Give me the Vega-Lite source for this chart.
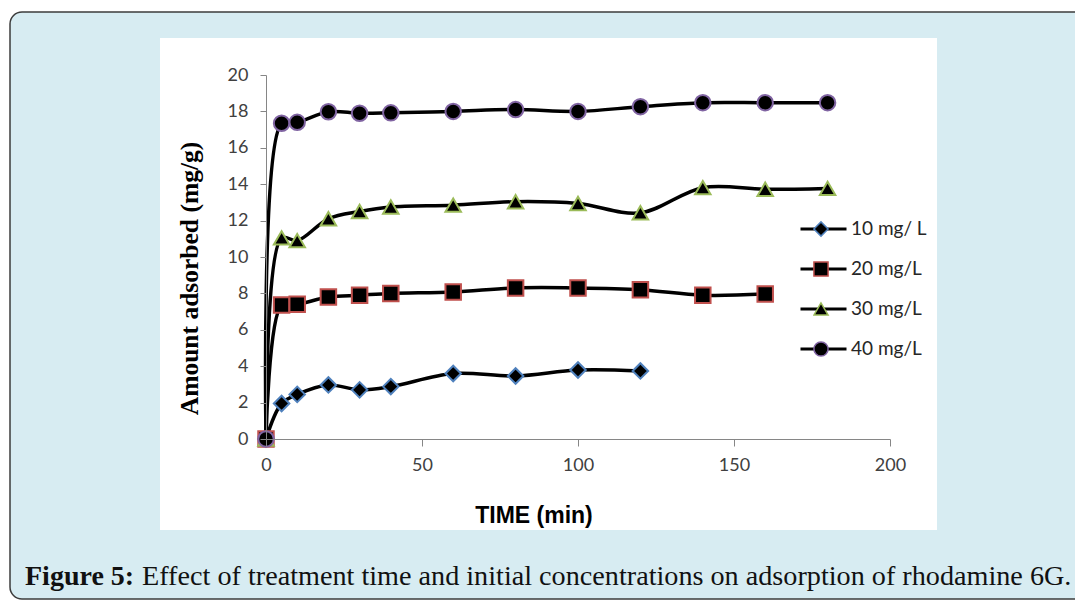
{
  "$schema": "https://vega.github.io/schema/vega-lite/v6.json",
  "width": 624,
  "height": 364,
  "autosize": {"type": "none"},
  "padding": {"left": 266, "top": 75, "right": 185, "bottom": 161},
  "background": "white",
  "config": {
    "view": {"stroke": null},
    "axisY": {"tickCount": 20, "labelOverlap": false},
    "axisX": {"tickCount": 10, "labelOverlap": false}
  },
  "datasets": {
    "obs": [
      {"conc": "10 mg/ L", "time": 0, "q": 0},
      {"conc": "10 mg/ L", "time": 5, "q": 1.95},
      {"conc": "10 mg/ L", "time": 10, "q": 2.45},
      {"conc": "10 mg/ L", "time": 20, "q": 2.97},
      {"conc": "10 mg/ L", "time": 30, "q": 2.7},
      {"conc": "10 mg/ L", "time": 40, "q": 2.88},
      {"conc": "10 mg/ L", "time": 60, "q": 3.6},
      {"conc": "10 mg/ L", "time": 80, "q": 3.46},
      {"conc": "10 mg/ L", "time": 100, "q": 3.79},
      {"conc": "10 mg/ L", "time": 120, "q": 3.74},
      {"conc": "20 mg/L", "time": 0, "q": 0},
      {"conc": "20 mg/L", "time": 5, "q": 7.36},
      {"conc": "20 mg/L", "time": 10, "q": 7.4},
      {"conc": "20 mg/L", "time": 20, "q": 7.8},
      {"conc": "20 mg/L", "time": 30, "q": 7.9},
      {"conc": "20 mg/L", "time": 40, "q": 8.0},
      {"conc": "20 mg/L", "time": 60, "q": 8.08},
      {"conc": "20 mg/L", "time": 80, "q": 8.3},
      {"conc": "20 mg/L", "time": 100, "q": 8.3},
      {"conc": "20 mg/L", "time": 120, "q": 8.2},
      {"conc": "20 mg/L", "time": 140, "q": 7.9},
      {"conc": "20 mg/L", "time": 160, "q": 7.97},
      {"conc": "30 mg/L", "time": 0, "q": 0},
      {"conc": "30 mg/L", "time": 5, "q": 11.05},
      {"conc": "30 mg/L", "time": 10, "q": 10.9},
      {"conc": "30 mg/L", "time": 20, "q": 12.1},
      {"conc": "30 mg/L", "time": 30, "q": 12.5},
      {"conc": "30 mg/L", "time": 40, "q": 12.75},
      {"conc": "30 mg/L", "time": 60, "q": 12.85},
      {"conc": "30 mg/L", "time": 80, "q": 13.04},
      {"conc": "30 mg/L", "time": 100, "q": 12.94},
      {"conc": "30 mg/L", "time": 120, "q": 12.43},
      {"conc": "30 mg/L", "time": 140, "q": 13.81},
      {"conc": "30 mg/L", "time": 160, "q": 13.72},
      {"conc": "30 mg/L", "time": 180, "q": 13.77},
      {"conc": "40 mg/L", "time": 0, "q": 0},
      {"conc": "40 mg/L", "time": 5, "q": 17.35},
      {"conc": "40 mg/L", "time": 10, "q": 17.4},
      {"conc": "40 mg/L", "time": 20, "q": 17.98},
      {"conc": "40 mg/L", "time": 30, "q": 17.9},
      {"conc": "40 mg/L", "time": 40, "q": 17.92},
      {"conc": "40 mg/L", "time": 60, "q": 18.0},
      {"conc": "40 mg/L", "time": 80, "q": 18.1},
      {"conc": "40 mg/L", "time": 100, "q": 18.0},
      {"conc": "40 mg/L", "time": 120, "q": 18.26},
      {"conc": "40 mg/L", "time": 140, "q": 18.48},
      {"conc": "40 mg/L", "time": 160, "q": 18.48},
      {"conc": "40 mg/L", "time": 180, "q": 18.48}
    ]
  },
  "layer": [
    {
      "data": {"values": [{}]},
      "mark": {"type": "rect", "fill": "#d7ecf2", "stroke": "#3c3c3c", "strokeWidth": 1.5, "cornerRadius": 12},
      "encoding": {
        "x": {"datum": -82.05, "type": "quantitative", "scale": {"domain": [0, 200]}},
        "x2": {"datum": 264.1},
        "y": {"datum": 23.46, "type": "quantitative", "scale": {"domain": [0, 20]}},
        "y2": {"datum": -8.79}
      }
    },
    {
      "data": {"values": [{}]},
      "mark": {"type": "rect", "fill": "white"},
      "encoding": {
        "x": {"datum": -33.97, "type": "quantitative", "scale": {"domain": [0, 200]}},
        "x2": {"datum": 215.06},
        "y": {"datum": 22.03, "type": "quantitative", "scale": {"domain": [0, 20]}},
        "y2": {"datum": -5.0}
      }
    },
    {
      "data": {"values": [{}]},
      "mark": {"type": "text", "text": "Figure 5:", "font": "Liberation Serif", "fontWeight": "bold", "fontSize": 28, "align": "left", "baseline": "alphabetic", "color": "#111111"},
      "encoding": {
        "x": {"datum": -77.24, "type": "quantitative", "scale": {"domain": [0, 200]}},
        "y": {"datum": -8.02, "type": "quantitative", "scale": {"domain": [0, 20]}}
      }
    },
    {
      "data": {"values": [{}]},
      "mark": {"type": "text", "text": "Effect of treatment time and initial concentrations on adsorption of rhodamine 6G.", "font": "Liberation Serif", "fontSize": 28.2, "align": "left", "baseline": "alphabetic", "color": "#111111"},
      "encoding": {
        "x": {"datum": -39.74, "type": "quantitative", "scale": {"domain": [0, 200]}},
        "y": {"datum": -8.02, "type": "quantitative", "scale": {"domain": [0, 20]}}
      }
    },
    {
      "data": {"name": "obs"},
      "mark": {"type": "line", "interpolate": "catmull-rom", "strokeWidth": 3.5},
      "encoding": {
        "x": {
          "field": "time", "type": "quantitative", "scale": {"domain": [0, 200]},
          "axis": {
            "title": "TIME (min)", "values": [0, 50, 100, 150, 200], "tickCount": 10, "grid": false, "zindex": 1,
            "titleFont": "Liberation Sans", "titleFontSize": 23, "titleFontWeight": "bold", "titleColor": "#000000",
            "titleX": 267.5, "titleY": 83, "titleBaseline": "alphabetic", "titleAlign": "center",
            "labelFont": "Lato", "labelFontSize": 18, "labelColor": "#404040", "labelPadding": 10, "labelFlush": false, "labelOverlap": false,
            "tickSize": 7, "tickColor": "#868686", "domainColor": "#868686"
          }
        },
        "y": {
          "field": "q", "type": "quantitative", "scale": {"domain": [0, 20]},
          "axis": {
            "title": "Amount adsorbed (mg/g)", "values": [0, 2, 4, 6, 8, 10, 12, 14, 16, 18, 20], "tickCount": 20, "grid": false, "zindex": 1,
            "titleFont": "Liberation Serif", "titleFontSize": 25.5, "titleFontWeight": "bold", "titleColor": "#000000",
            "titleX": -77, "titleY": 203, "titleAngle": -90, "titleBaseline": "middle", "titleAlign": "center",
            "labelFont": "Lato", "labelFontSize": 18, "labelColor": "#404040", "labelPadding": 12, "labelFlush": false, "labelOverlap": false,
            "tickSize": 6, "tickColor": "#868686", "domainColor": "#868686"
          }
        },
        "color": {
          "field": "conc", "type": "nominal",
          "scale": {"range": ["#000000", "#000000", "#000000", "#000000"]},
          "legend": {
            "title": null, "orient": "none", "legendX": 533, "legendY": 144, "padding": 0,
            "symbolType": "stroke", "symbolSize": 2116, "symbolStrokeWidth": 3,
            "clipHeight": 20, "rowPadding": 20, "labelOffset": 3,
            "labelFont": "Lato", "labelFontSize": 19, "labelColor": "#262626"
          }
        }
      }
    },
    {
      "data": {"name": "obs"},
      "mark": {"type": "point", "filled": true, "fill": "#000000", "size": 240, "strokeWidth": 2, "opacity": 1},
      "encoding": {
        "x": {"field": "time", "type": "quantitative", "scale": {"domain": [0, 200]}},
        "y": {"field": "q", "type": "quantitative", "scale": {"domain": [0, 20]}},
        "shape": {
          "field": "conc", "type": "nominal",
          "scale": {"range": ["diamond", "square", "triangle-up", "circle"]},
          "legend": {
            "title": null, "orient": "none", "legendX": 547, "legendY": 144, "padding": 0,
            "symbolSize": 200, "symbolFillColor": "#000000", "symbolStrokeWidth": 1.5,
            "clipHeight": 20, "rowPadding": 20, "labelExpr": "''", "labelFontSize": 1
          }
        },
        "stroke": {
          "field": "conc", "type": "nominal",
          "scale": {"range": ["#4f81bd", "#c0504d", "#9bbb59", "#8064a2"]},
          "legend": {
            "title": null, "orient": "none", "legendX": 547, "legendY": 144, "padding": 0,
            "symbolSize": 200, "symbolFillColor": "#000000", "symbolStrokeWidth": 1.5,
            "clipHeight": 20, "rowPadding": 20, "labelExpr": "''", "labelFontSize": 1
          }
        }
      }
    }
  ]
}
